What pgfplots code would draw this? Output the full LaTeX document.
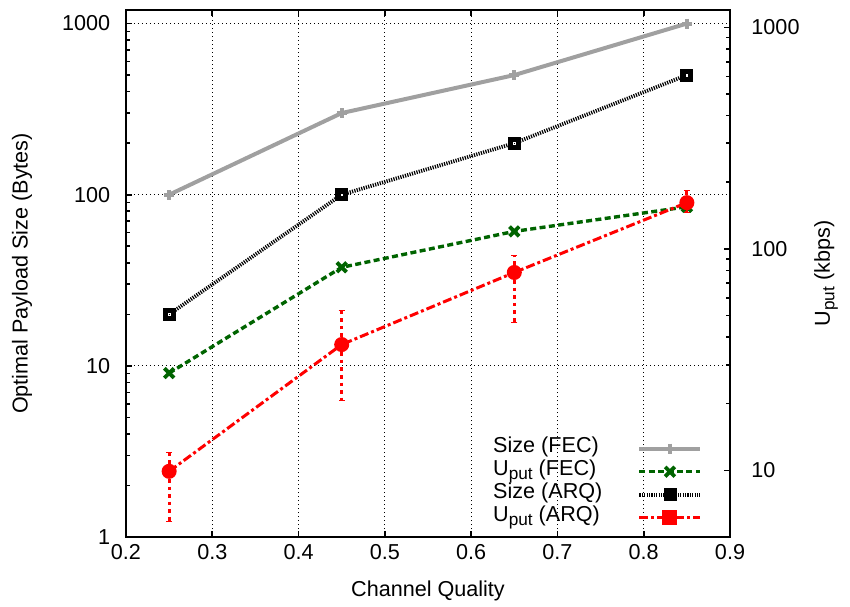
\documentclass[border=0pt]{standalone}
\usepackage{fontspec}
\setmainfont{Liberation Sans}
\usepackage{pgfplots}
\pgfplotsset{compat=1.18}
\pgfkeys{/pgf/number format/assume math mode=true, /pgf/number format/1000 sep={}}
\definecolor{fecgray}{RGB}{160,160,160}
\definecolor{fecgreen}{RGB}{0,100,0}
\newcommand{\Uput}{U\raisebox{-0.4ex}{\fontsize{8.6}{9}\selectfont put}}

\begin{document}
\begin{tikzpicture}[font=\fontsize{10.8}{13}\selectfont]
\useasboundingbox (-63pt,-34.5pt) rectangle (362pt,268.5pt);
\begin{axis}[
  scale only axis, width=302pt, height=263.5pt,
  xmin=0.2, xmax=0.9, ymode=log,
  tick align=inside, major tick length=3.2pt, minor tick length=1.8pt,
  axis line style={line width=1.1pt},
  every tick/.style={black, line width=0.8pt},
  ymin=1, ymax=1200,
  xtick={0.2,0.3,0.4,0.5,0.6,0.7,0.8,0.9},
  xticklabel style={/pgf/number format/.cd, fixed, fixed zerofill, precision=1},
  ytick={1,10,100,1000},
  log ticks with fixed point,
  ytick pos=left, xtick pos=both,
  grid=major,
  major grid style={black, line width=0.4pt, dash pattern=on 0.5pt off 1.5pt},
  xlabel={Channel Quality},
  ylabel={Optimal Payload Size (Bytes)},
  xlabel style={at={(axis description cs:0.5,-0.1025)}, anchor=center},
  ylabel style={at={(axis description cs:-0.172,0.5)}, anchor=center},
  yticklabel style={xshift=-4.4pt},
]
\addplot[fecgray, line width=2pt, mark=+, mark size=2.5pt, mark options={solid}]
  coordinates {(0.25,100) (0.45,300) (0.65,500) (0.85,1000)};
\addplot[black, line width=1.9pt, dash pattern=on 0.6pt off 0.6pt, mark=square*, mark size=3pt, mark options={solid, line width=0.4pt}]
  coordinates {(0.25,20) (0.45,100) (0.65,200) (0.85,500)};
\addplot[only marks, white, mark=square, mark size=0.4pt, line width=0.3pt]
  coordinates {(0.25,20) (0.45,100) (0.65,200) (0.85,500)};
\end{axis}

\begin{axis}[
  scale only axis, width=302pt, height=263.5pt,
  xmin=0.2, xmax=0.9, ymode=log,
  tick align=inside, major tick length=3.2pt, minor tick length=1.8pt,
  axis line style={line width=1.1pt},
  every tick/.style={black, line width=0.8pt},
  ymin=5, ymax=1200,
  axis y line*=right, axis x line=none,
  ytick={10,100,1000},
  log ticks with fixed point,
  ylabel={\Uput\ (kbps)},
  ylabel style={at={(axis description cs:1.159,0.5)}, anchor=center},
  yticklabel style={xshift=7.2pt},
  legend plot pos=right,
  legend cell align=left,
  legend image code/.code={\draw[mark repeat=2,mark phase=2,#1] plot coordinates {(0pt,0pt) (15.25pt,0pt) (30.5pt,0pt)};},
  legend style={at={(axis description cs:0.955,0.014)}, anchor=south east, draw=none, fill=none, inner sep=0pt,
    column sep=17.5pt,
    nodes={inner sep=0pt, text height=7.6pt, text depth=3.9pt}},
]
\addplot[forget plot, fecgreen, line width=1.7pt, dash pattern=on 3pt off 1.7pt, mark=x, mark size=3.4pt, mark options={solid, line width=1.9pt}]
  coordinates {(0.25,27.5) (0.45,82.6) (0.65,120) (0.85,155)};
\addplot[forget plot, red, line width=1.5pt, dash pattern=on 4.5pt off 1.5pt on 1.5pt off 1.5pt, mark=*, mark size=3pt, mark options={solid},
  error bars/.cd, y dir=both, y explicit,
  error bar style={line width=1.5pt, dash pattern=on 1.8pt off 2pt},
  error mark options={rotate=90, mark size=1.5pt, solid}]
  table[x=x, y=y, y error plus=ep, y error minus=em] {
x y ep em
0.25 9.9 2.1 4.0
0.45 37.0 16.0 16.2
0.65 78.3 15.5 31.5
0.85 161.8 22.0 16.0
};
\addlegendimage{fecgray, line width=2pt, mark=+, mark size=2.5pt, mark options={solid}}
\addlegendentry{Size (FEC)}
\addlegendimage{fecgreen, line width=1.7pt, dash pattern=on 3pt off 1.7pt, mark=x, mark size=3.4pt, mark options={solid, line width=1.9pt}}
\addlegendentry{\Uput\ (FEC)}
\addlegendimage{black, line width=1.9pt, dash pattern=on 0.6pt off 0.6pt, mark=square*, mark size=3pt, mark options={solid, line width=0.4pt}}
\addlegendentry{Size (ARQ)}
\addlegendimage{red, line width=1.5pt, dash pattern=on 4.5pt off 1.5pt on 1.5pt off 1.5pt, mark=square*, mark size=3pt, mark options={solid}}
\addlegendentry{\Uput\ (ARQ)}
\end{axis}
\end{tikzpicture}
\end{document}
